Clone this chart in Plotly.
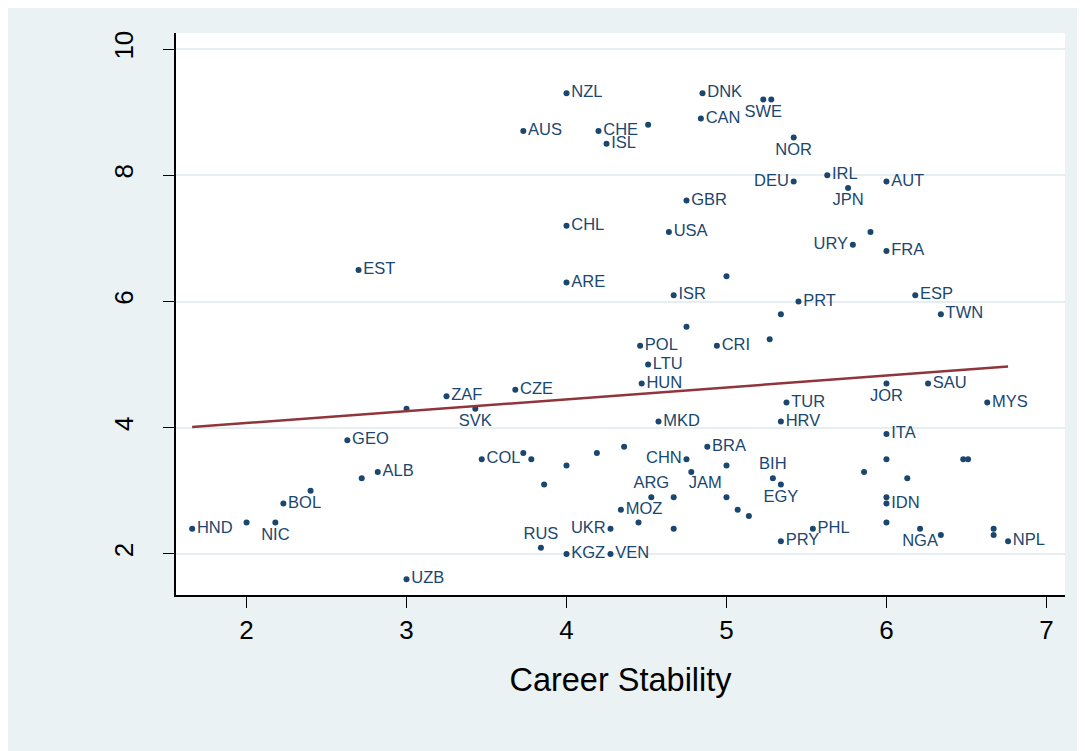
import plotly.graph_objects as go

# Country data: career stability (x), outcome (y), label, label position
countries = ["EST", "NZL", "DNK", "AUS", "CHE", "", "ISL", "CAN", "SWE", "",
             "NOR", "DEU", "IRL", "JPN", "AUT", "", "URY", "FRA", "ESP", "PRT",
             "TWN", "", "", "GBR", "CHL", "USA", "", "ARE", "ISR", "",
             "POL", "CRI", "LTU", "HUN", "CZE", "ZAF", "SVK", "", "MKD", "GEO",
             "ALB", "", "", "BOL", "", "NIC", "HND", "UZB", "COL", "",
             "", "", "", "", "", "CHN", "", "BRA", "", "JAM",
             "ARG", "", "MOZ", "", "UKR", "", "RUS", "KGZ", "VEN", "",
             "", "MYS", "SAU", "JOR", "TUR", "HRV", "ITA", "", "", "",
             "", "", "BIH", "EGY", "IDN", "", "", "NGA", "", "",
             "", "NPL", "PHL", "PRY"]
career_stability = [2.70, 4.00, 4.85, 3.73, 4.20, 4.51, 4.25, 4.84, 5.23, 5.28,
                    5.42, 5.42, 5.63, 5.76, 6.00, 5.90, 5.79, 6.00, 6.18, 5.45,
                    6.34, 5.34, 5.27, 4.75, 4.00, 4.64, 5.00, 4.00, 4.67, 4.75,
                    4.46, 4.94, 4.51, 4.47, 3.68, 3.25, 3.43, 3.00, 4.575, 2.63,
                    2.82, 2.72, 2.40, 2.23, 2.00, 2.18, 1.66, 3.00, 3.47, 3.73,
                    3.78, 3.86, 4.00, 4.19, 4.36, 4.75, 4.78, 4.88, 5.00, 5.00,
                    4.53, 4.67, 4.34, 4.45, 4.275, 4.67, 3.84, 4.00, 4.275, 5.07,
                    5.14, 6.63, 6.26, 6.00, 5.375, 5.34, 6.00, 6.00, 6.48, 6.51,
                    5.86, 6.13, 5.29, 5.34, 6.00, 6.00, 6.00, 6.21, 6.34, 6.67,
                    6.67, 6.76, 5.54, 5.34]
outcome = [6.5, 9.3, 9.3, 8.7, 8.7, 8.8, 8.5, 8.9, 9.2, 9.2,
           8.6, 7.9, 8.0, 7.8, 7.9, 7.1, 6.9, 6.8, 6.1, 6.0,
           5.8, 5.8, 5.4, 7.6, 7.2, 7.1, 6.4, 6.3, 6.1, 5.6,
           5.3, 5.3, 5.0, 4.7, 4.6, 4.5, 4.3, 4.3, 4.1, 3.8,
           3.3, 3.2, 3.0, 2.8, 2.5, 2.5, 2.4, 1.6, 3.5, 3.6,
           3.5, 3.1, 3.4, 3.6, 3.7, 3.5, 3.3, 3.7, 3.4, 2.9,
           2.9, 2.9, 2.7, 2.5, 2.4, 2.4, 2.1, 2.0, 2.0, 2.7,
           2.6, 4.4, 4.7, 4.7, 4.4, 4.1, 3.9, 3.5, 3.5, 3.5,
           3.3, 3.2, 3.2, 3.1, 2.8, 2.9, 2.5, 2.4, 2.3, 2.4,
           2.3, 2.2, 2.4, 2.2]
label_pos = {"SWE": "bottom center", "NOR": "bottom center", "DEU": "middle left",
             "JPN": "bottom center", "URY": "middle left", "SVK": "bottom center",
             "NIC": "bottom center", "JOR": "bottom center", "NGA": "bottom center",
             "EGY": "bottom center", "BIH": "top center", "RUS": "top center",
             "ARG": "top center", "JAM": "top left", "CHN": "middle left",
             "UKR": "middle left"}
positions = [label_pos.get(c, "middle right") for c in countries]

# Fitted values line (endpoints)
fit_x = [1.66, 6.76]
fit_y = [4.01, 4.97]

x_ticks = [2, 3, 4, 5, 6, 7]
y_ticks = [2, 4, 6, 8, 10]

NAVY = "#1A476F"
MAROON = "#90353B"
BG = "#EAF2F3"
FONT = "Liberation Sans, Arial, sans-serif"

fig = go.Figure()
fig.add_trace(go.Scatter(
    x=career_stability, y=outcome, mode="markers+text",
    text=countries, textposition=positions,
    marker=dict(color=NAVY, size=6),
    textfont=dict(color=NAVY, size=16.5, family=FONT),
    cliponaxis=False, showlegend=False, hoverinfo="skip"))
fig.add_trace(go.Scatter(
    x=fit_x, y=fit_y, mode="lines",
    line=dict(color=MAROON, width=2.5), showlegend=False))

W, H = 1077, 743
L, R, T, B = 168, 20, 25, 156

fig.update_layout(
    width=W, height=H,
    margin=dict(l=L, r=R, t=T, b=B),
    paper_bgcolor=BG, plot_bgcolor="white",
    font=dict(family=FONT, color="black"),
    xaxis=dict(range=[1.559, 7.116], tickvals=x_ticks, showgrid=False,
               zeroline=False, showline=True, linecolor="black", linewidth=1.5,
               ticks="outside", ticklen=11, tickcolor="black", tickwidth=1.2,
               tickfont=dict(size=26, family=FONT, color="black"),
               title=dict(text="Career Stability", standoff=24,
                          font=dict(size=32.5, family=FONT, color="black"))),
    yaxis=dict(range=[1.35, 10.254], tickvals=y_ticks, showgrid=True,
               gridcolor="#E6EEF1", gridwidth=2,
               zeroline=False, showline=True, linecolor="black", linewidth=1.5,
               ticks="outside", ticklen=11, tickcolor="black", tickwidth=1.2,
               tickangle=-90, ticklabelstandoff=20,
               tickfont=dict(size=26, family=FONT, color="black")),
)

fig.write_html("out.html")
